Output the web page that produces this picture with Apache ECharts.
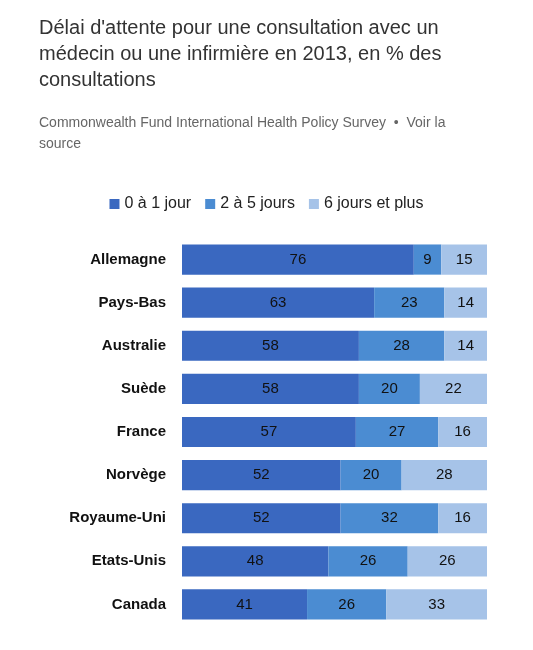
<!DOCTYPE html>
<html><head><meta charset="utf-8">
<script src="https://cdn.jsdelivr.net/npm/echarts@6/dist/echarts.min.js"></script>
<style>html,body{margin:0;padding:0;background:#fff}#c{width:533px;height:650px}</style>
</head><body><div id="c"></div>
<script>
const categories = ["Allemagne","Pays-Bas","Australie","Suède","France","Norvège","Royaume-Uni","Etats-Unis","Canada"];
const s0 = [76,63,58,58,57,52,52,48,41];
const s1 = [9,23,28,20,27,20,32,26,26];
const s2 = [15,14,14,22,16,28,16,26,33];
const names = ["0 à 1 jour","2 à 5 jours","6 jours et plus"];
const colors = ["#3a68c0","#4b8cd2","#a6c3e8"];
const chart = echarts.init(document.getElementById('c'));
const mk = (n,d,i)=>({name:n,type:'bar',stack:'a',data:d,barWidth:'70%',itemStyle:{color:colors[i],borderColor:'#fff',borderWidth:0},
  label:{show:true,position:'inside',color:'#111',fontSize:15,fontFamily:'Helvetica, Arial, sans-serif'}});
chart.setOption({
  animation:false,
  title:[{text:"Délai d'attente pour une consultation avec un\nmédecin ou une infirmière en 2013, en % des\nconsultations",
    left:34,top:10,textStyle:{fontSize:20,fontWeight:'normal',color:'#333',lineHeight:26,fontFamily:'Helvetica, Arial, sans-serif'}},
   {text:"Commonwealth Fund International Health Policy Survey  •  Voir la\nsource",left:34,top:108,
    textStyle:{fontSize:14,fontWeight:'normal',color:'#666',lineHeight:21,fontFamily:'Helvetica, Arial, sans-serif'}}],
  legend:{top:191,left:'center',itemWidth:10,itemHeight:10,itemGap:14,icon:'rect',
    textStyle:{fontSize:16,color:'#222',fontFamily:'Helvetica, Arial, sans-serif'},data:names},
  grid:{left:182,right:46,top:238,bottom:24},
  xAxis:{type:'value',min:0,max:100,show:false},
  yAxis:{type:'category',data:categories,inverse:true,axisLine:{show:false},axisTick:{show:false},
    axisLabel:{fontSize:15,fontWeight:'bold',color:'#111',margin:16,fontFamily:'Helvetica, Arial, sans-serif'}},
  series:[mk(names[0],s0,0),mk(names[1],s1,1),mk(names[2],s2,2)]
});
</script></body></html>
